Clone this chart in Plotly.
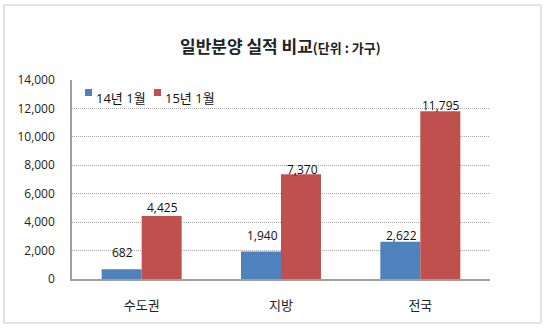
import plotly.graph_objects as go

# 일반분양 실적 (단위: 가구)
categories = ["수도권", "지방", "전국"]
series_names = ["14년 1월", "15년 1월"]
jan_2014 = [682, 1940, 2622]
jan_2015 = [4425, 7370, 11795]
y_ticks = [0, 2000, 4000, 6000, 8000, 10000, 12000, 14000]

colors = ["#4F81BD", "#C0504D"]
# 값 라벨 중심의 막대 위 간격(px)
label_gap_2014 = [17, 16, 6]
label_gap_2015 = [9, 5, 6]

FONT = "Noto Sans CJK KR"
NUM_FONT = "Open Sans, Noto Sans CJK KR"

fig = go.Figure()
for name, vals, col in zip(series_names, [jan_2014, jan_2015], colors):
    fig.add_trace(go.Bar(
        x=categories, y=vals, name=name,
        marker=dict(color=col, line=dict(width=0)),
        showlegend=False,
    ))

# 막대 위 값 라벨
for idx, (vals, gaps) in enumerate([(jan_2014, label_gap_2014), (jan_2015, label_gap_2015)]):
    for cat, v, g in zip(categories, vals, gaps):
        fig.add_annotation(
            x=cat, y=v, text=f"{v:,}", showarrow=False,
            xshift=(-19 if idx == 0 else 21), yshift=g,
            yanchor="middle",
            font=dict(family=NUM_FONT, size=12, color="#111"),
        )

L, R, T, B = 72, 59, 80, 53
W, H = 549, 332
pw, ph = W - L - R, H - T - B

def px_x(p):
    return (p - L) / pw

def px_y(p):
    return (H - B - p) / ph

# 범례: 작은 색 사각형 + 이름
legend_x = [85, 154]
for lx, name, col in zip(legend_x, series_names, colors):
    fig.add_shape(
        type="rect", xref="paper", yref="paper",
        x0=px_x(lx), x1=px_x(lx + 7), y0=px_y(96), y1=px_y(89),
        fillcolor=col, line=dict(width=0),
    )
    fig.add_annotation(
        x=px_x(lx + 9), y=px_y(98), xref="paper", yref="paper",
        text=name, showarrow=False, xanchor="left", yanchor="middle",
        font=dict(family=NUM_FONT, size=13, color="#111"),
    )

# 제목
fig.add_annotation(
    x=px_x(280), y=px_y(46), xref="paper", yref="paper",
    text="<b>일반분양 실적 비교</b><span style='font-size:13px'><b>(단위 : 가구)</b></span>",
    showarrow=False, xanchor="center", yanchor="middle",
    font=dict(family=FONT, size=17, color="#222"),
)

# 바깥 테두리
fig.add_shape(
    type="rect", xref="paper", yref="paper",
    x0=px_x(4), x1=px_x(541), y0=px_y(323), y1=px_y(5),
    line=dict(color="#C8C8C8", width=1), layer="below",
)

fig.update_layout(
    width=W, height=H,
    margin=dict(l=L, r=R, t=T, b=B),
    paper_bgcolor="white", plot_bgcolor="white",
    barmode="group", bargap=0.426, bargroupgap=0,
    showlegend=False,
    font=dict(family=FONT),
)
fig.update_xaxes(
    showgrid=False, showline=True, linecolor="#A0A0A0", linewidth=1.5,
    ticks="", tickfont=dict(family=FONT, size=13, color="#222"),
    ticklabelstandoff=14,
)
fig.update_yaxes(
    range=[0, 14000], tickvals=y_ticks, tickformat=",d",
    showgrid=True, gridcolor="#A8A8A8", griddash="1px,1px", gridwidth=1,
    showline=True, linecolor="#A0A0A0", linewidth=1.5,
    zeroline=False, ticks="",
    tickfont=dict(family=NUM_FONT, size=12, color="#222"),
    ticklabelstandoff=13,
)

fig.write_html("out.html")
